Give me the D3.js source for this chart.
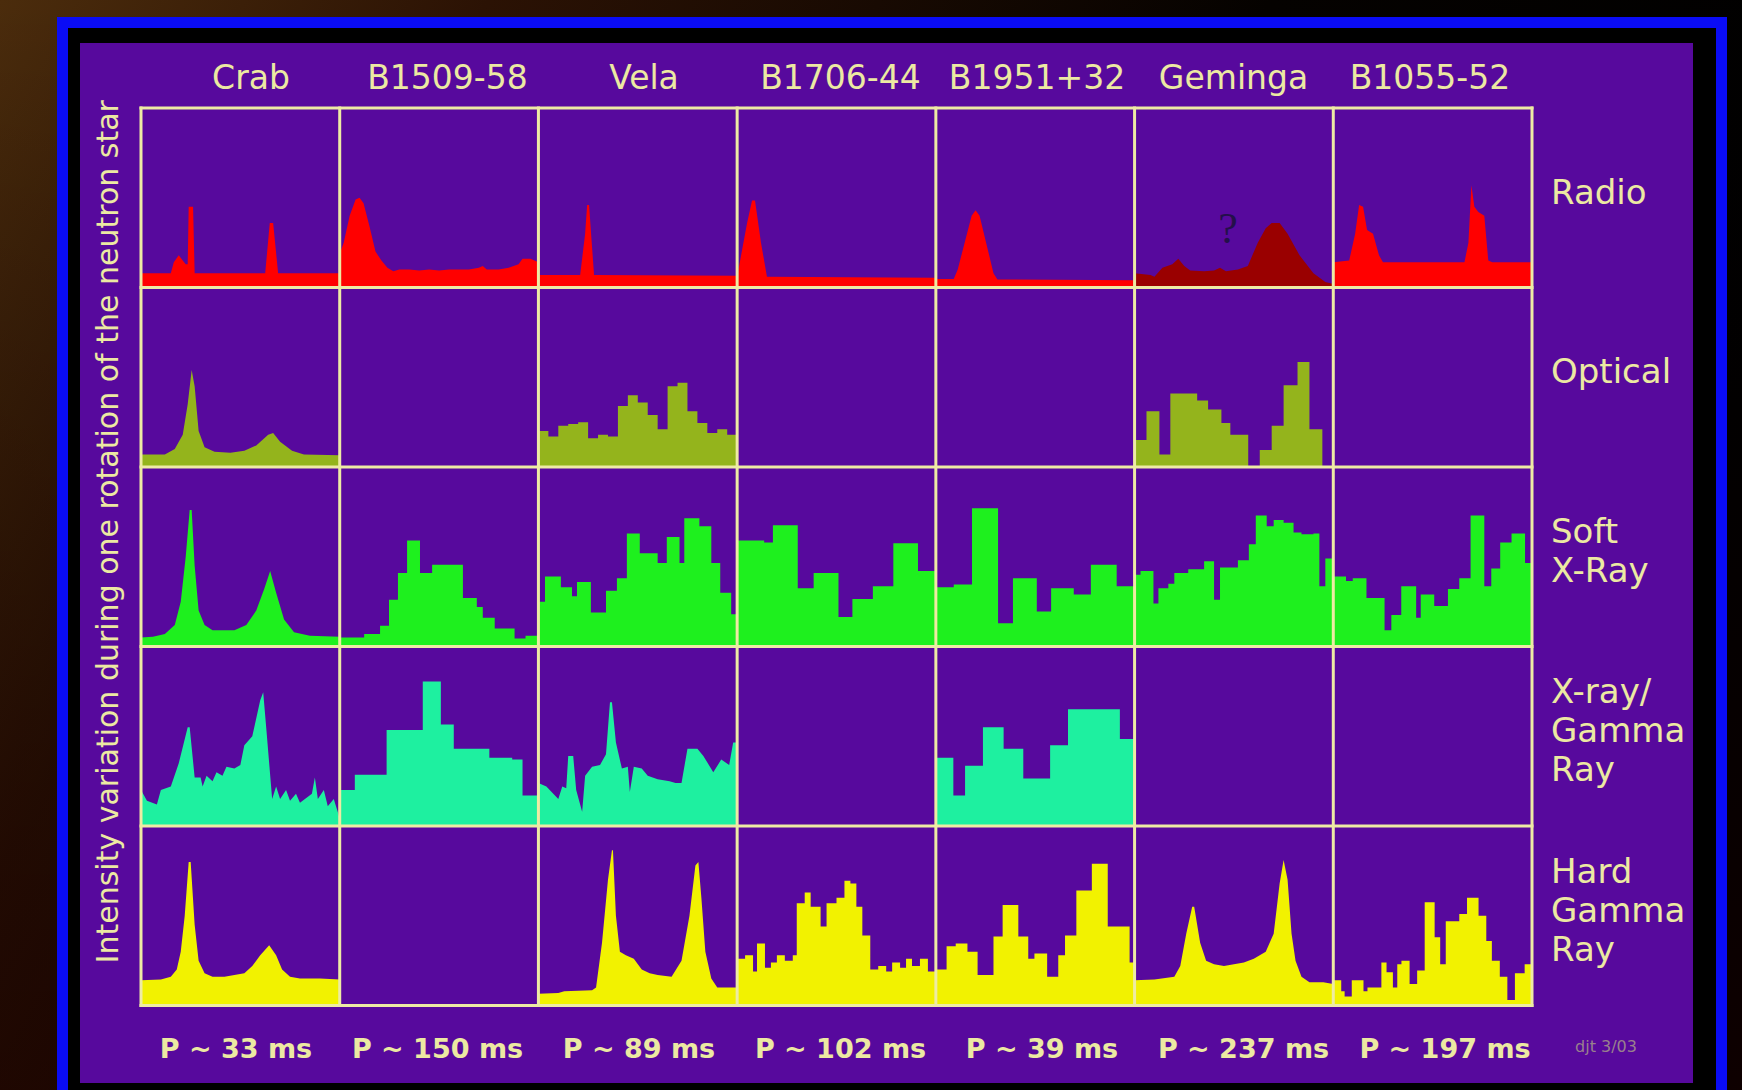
<!DOCTYPE html>
<html>
<head>
<meta charset="utf-8">
<script src="https://cdn.jsdelivr.net/npm/d3@7"></script>
<style>
  html, body { margin: 0; padding: 0; background: #000; overflow: hidden; }
  svg { display: block; }
</style>
</head>
<body>
<svg id="chart" width="1742" height="1090"></svg>
<script>
// Pulsars (columns), wavebands (rows) and the quoted spin periods
const pulsars = ["Crab", "B1509-58", "Vela", "B1706-44", "B1951+32", "Geminga", "B1055-52"];
const periods = ["P ~ 33 ms", "P ~ 150 ms", "P ~ 89 ms", "P ~ 102 ms", "P ~ 39 ms", "P ~ 237 ms", "P ~ 197 ms"];
const bands = ["Radio", "Optical", "Soft X-Ray", "X-ray/Gamma Ray", "Hard Gamma Ray"];
const bandLines = [["Radio"], ["Optical"], ["Soft", "X-Ray"], ["X-ray/", "Gamma", "Ray"], ["Hard", "Gamma", "Ray"]];

// Pulse profiles: [rotation phase, relative intensity]
// Smooth profiles are joined point to point; histogram profiles give [bin start, level].
const radioCrab = [[0,0.08],[0.15,0.08],[0.165,0.14],[0.19,0.18],[0.21,0.15],[0.225,0.13],[0.235,0.13],[0.24,0.45],[0.262,0.45],[0.27,0.08],[0.625,0.08],[0.648,0.36],[0.665,0.36],[0.69,0.08],[1,0.08]];
const radioB1509 = [[0,0.19],[0.02,0.25],[0.05,0.4],[0.08,0.49],[0.1,0.5],[0.12,0.47],[0.15,0.34],[0.18,0.2],[0.21,0.15],[0.24,0.11],[0.27,0.09],[0.3,0.1],[0.35,0.1],[0.4,0.095],[0.45,0.1],[0.5,0.095],[0.55,0.1],[0.6,0.1],[0.65,0.1],[0.7,0.11],[0.72,0.12],[0.74,0.1],[0.8,0.1],[0.85,0.11],[0.9,0.13],[0.92,0.16],[0.96,0.16],[1,0.14]];
const radioVela = [[0,0.07],[0.21,0.07],[0.235,0.3],[0.245,0.46],[0.255,0.46],[0.265,0.3],[0.28,0.07],[1,0.065]];
const radioB1706 = [[0,0.06],[0.01,0.12],[0.05,0.36],[0.075,0.485],[0.09,0.485],[0.12,0.25],[0.15,0.06],[1,0.054]];
const radioB1951 = [[0,0.048],[0.09,0.048],[0.11,0.1],[0.18,0.4],[0.2,0.43],[0.22,0.4],[0.29,0.08],[0.31,0.045],[1,0.04]];
const radioGeminga = [[0,0.08],[0.08,0.07],[0.1,0.06],[0.14,0.11],[0.19,0.13],[0.22,0.16],[0.25,0.12],[0.28,0.095],[0.35,0.09],[0.4,0.095],[0.43,0.11],[0.46,0.09],[0.52,0.1],[0.57,0.12],[0.62,0.25],[0.66,0.33],[0.69,0.36],[0.73,0.36],[0.77,0.3],[0.83,0.18],[0.9,0.08],[0.96,0.03],[1,0.02]];
const radioB1055 = [[0,0.14],[0.08,0.15],[0.11,0.3],[0.13,0.46],[0.15,0.45],[0.17,0.32],[0.2,0.3],[0.23,0.18],[0.25,0.14],[0.66,0.14],[0.68,0.25],[0.695,0.57],[0.71,0.45],[0.73,0.42],[0.76,0.4],[0.78,0.15],[0.8,0.14],[1,0.14]];

const opticalCrab = [[0,0.07],[0.12,0.07],[0.17,0.1],[0.21,0.18],[0.235,0.35],[0.255,0.54],[0.27,0.45],[0.29,0.2],[0.32,0.11],[0.37,0.085],[0.45,0.08],[0.52,0.09],[0.58,0.12],[0.64,0.18],[0.665,0.19],[0.7,0.14],[0.76,0.09],[0.82,0.07],[1,0.065]];
const opticalVela = [[0,0.2],[0.05,0.17],[0.1,0.23],[0.15,0.24],[0.2,0.25],[0.25,0.16],[0.3,0.18],[0.35,0.17],[0.4,0.34],[0.45,0.4],[0.5,0.36],[0.55,0.29],[0.6,0.21],[0.65,0.45],[0.7,0.47],[0.75,0.31],[0.8,0.245],[0.85,0.19],[0.9,0.21],[0.95,0.18]];
const opticalGeminga = [[0,0.15],[0.06,0.31],[0.125,0.07],[0.18,0.41],[0.315,0.37],[0.37,0.32],[0.437,0.245],[0.482,0.18],[0.572,0],[0.63,0.095],[0.69,0.23],[0.75,0.455],[0.82,0.585],[0.88,0.21],[0.945,0]];

const softCrab = [[0,0.05],[0.06,0.055],[0.12,0.07],[0.17,0.12],[0.2,0.25],[0.225,0.5],[0.245,0.76],[0.255,0.76],[0.27,0.45],[0.29,0.2],[0.32,0.12],[0.36,0.09],[0.47,0.09],[0.53,0.12],[0.58,0.2],[0.62,0.32],[0.65,0.42],[0.68,0.3],[0.72,0.15],[0.77,0.08],[0.85,0.06],[1,0.055]];
const softB1509 = [[0,0.05],[0.123,0.07],[0.203,0.115],[0.248,0.26],[0.293,0.41],[0.339,0.59],[0.404,0.41],[0.465,0.455],[0.62,0.27],[0.69,0.22],[0.72,0.16],[0.78,0.1],[0.88,0.045],[0.935,0.06]];
const softVela = [[0,0.25],[0.033,0.39],[0.113,0.33],[0.169,0.28],[0.194,0.36],[0.264,0.19],[0.34,0.31],[0.395,0.38],[0.445,0.63],[0.51,0.52],[0.6,0.465],[0.646,0.61],[0.71,0.465],[0.734,0.715],[0.81,0.67],[0.87,0.465],[0.915,0.3],[0.97,0.18]];
const softB1706 = [[0,0.59],[0.136,0.58],[0.18,0.675],[0.305,0.325],[0.385,0.41],[0.51,0.165],[0.58,0.265],[0.683,0.335],[0.786,0.575],[0.91,0.42]];
const softB1951 = [[0,0.33],[0.09,0.345],[0.182,0.77],[0.313,0.13],[0.388,0.38],[0.508,0.195],[0.58,0.325],[0.694,0.29],[0.78,0.455],[0.91,0.335]];
const softGeminga = [[0,0.4],[0.03,0.42],[0.095,0.24],[0.12,0.325],[0.17,0.35],[0.2,0.41],[0.27,0.43],[0.35,0.475],[0.4,0.26],[0.43,0.44],[0.52,0.48],[0.575,0.57],[0.61,0.73],[0.665,0.67],[0.7,0.705],[0.75,0.69],[0.8,0.635],[0.84,0.625],[0.9,0.63],[0.93,0.335],[0.96,0.49]];
const softB1055 = [[0,0.39],[0.064,0.365],[0.098,0.38],[0.167,0.27],[0.258,0.09],[0.292,0.175],[0.342,0.335],[0.417,0.16],[0.44,0.29],[0.508,0.225],[0.577,0.32],[0.634,0.38],[0.691,0.73],[0.76,0.335],[0.795,0.435],[0.84,0.58],[0.897,0.63],[0.965,0.465]];

const xgCrab = [[0,0.2],[0.03,0.14],[0.08,0.12],[0.1,0.2],[0.15,0.22],[0.19,0.35],[0.235,0.55],[0.245,0.55],[0.27,0.27],[0.3,0.27],[0.31,0.22],[0.33,0.28],[0.36,0.25],[0.38,0.3],[0.41,0.28],[0.43,0.33],[0.47,0.32],[0.5,0.34],[0.52,0.45],[0.56,0.5],[0.6,0.7],[0.615,0.745],[0.63,0.55],[0.66,0.15],[0.68,0.22],[0.7,0.15],[0.73,0.2],[0.75,0.14],[0.78,0.18],[0.8,0.13],[0.86,0.18],[0.875,0.27],[0.89,0.15],[0.92,0.2],[0.94,0.11],[0.97,0.15],[0.99,0.08],[1,0.04]];
const xgB1509 = [[0,0.2],[0.076,0.285],[0.236,0.535],[0.418,0.805],[0.509,0.565],[0.574,0.43],[0.753,0.38],[0.868,0.37],[0.92,0.17]];
const xgVela = [[0,0.24],[0.04,0.22],[0.1,0.15],[0.12,0.22],[0.14,0.21],[0.15,0.39],[0.175,0.39],[0.19,0.2],[0.22,0.08],[0.235,0.28],[0.27,0.33],[0.31,0.34],[0.34,0.4],[0.36,0.69],[0.37,0.69],[0.39,0.465],[0.42,0.32],[0.45,0.33],[0.46,0.19],[0.48,0.33],[0.52,0.32],[0.55,0.28],[0.6,0.26],[0.66,0.25],[0.69,0.24],[0.72,0.24],[0.75,0.43],[0.8,0.43],[0.83,0.39],[0.88,0.3],[0.92,0.37],[0.96,0.34],[0.98,0.465],[1,0.465]];
const xgB1951 = [[0,0.38],[0.088,0.17],[0.147,0.335],[0.237,0.55],[0.341,0.43],[0.44,0.265],[0.575,0.45],[0.665,0.65],[0.926,0.485]];

const hardCrab = [[0,0.14],[0.1,0.145],[0.15,0.16],[0.18,0.2],[0.2,0.3],[0.22,0.5],[0.24,0.8],[0.25,0.8],[0.27,0.45],[0.29,0.25],[0.32,0.18],[0.36,0.16],[0.42,0.16],[0.47,0.17],[0.52,0.18],[0.56,0.22],[0.6,0.28],[0.645,0.335],[0.68,0.28],[0.71,0.2],[0.75,0.16],[0.8,0.15],[0.9,0.15],[1,0.145]];
const hardVela = [[0,0.065],[0.1,0.07],[0.13,0.08],[0.27,0.085],[0.29,0.1],[0.32,0.35],[0.35,0.7],[0.37,0.865],[0.375,0.865],[0.39,0.5],[0.41,0.3],[0.44,0.28],[0.48,0.26],[0.52,0.2],[0.56,0.18],[0.6,0.17],[0.67,0.16],[0.72,0.25],[0.76,0.5],[0.79,0.78],[0.805,0.8],[0.82,0.6],[0.84,0.3],[0.87,0.15],[0.9,0.1],[0.95,0.1],[1,0.1]];
const hardB1706 = [[0,0.26],[0.04,0.28],[0.08,0.19],[0.1,0.345],[0.14,0.21],[0.17,0.24],[0.2,0.28],[0.24,0.25],[0.28,0.28],[0.3,0.57],[0.34,0.63],[0.37,0.55],[0.42,0.44],[0.45,0.57],[0.5,0.6],[0.54,0.695],[0.57,0.68],[0.6,0.55],[0.63,0.39],[0.67,0.2],[0.71,0.22],[0.75,0.19],[0.78,0.24],[0.82,0.21],[0.85,0.26],[0.88,0.22],[0.92,0.26],[0.96,0.19]];
const hardB1951 = [[0,0.2],[0.054,0.33],[0.1,0.345],[0.159,0.3],[0.21,0.17],[0.29,0.385],[0.336,0.56],[0.415,0.385],[0.465,0.26],[0.496,0.29],[0.56,0.16],[0.616,0.28],[0.65,0.39],[0.707,0.64],[0.785,0.79],[0.865,0.44],[0.975,0.24]];
const hardGeminga = [[0,0.14],[0.1,0.145],[0.2,0.16],[0.23,0.22],[0.26,0.4],[0.29,0.55],[0.3,0.55],[0.33,0.35],[0.36,0.25],[0.4,0.23],[0.45,0.22],[0.5,0.23],[0.55,0.24],[0.6,0.26],[0.66,0.3],[0.7,0.4],[0.73,0.68],[0.75,0.81],[0.77,0.7],[0.79,0.4],[0.81,0.25],[0.84,0.16],[0.88,0.13],[0.95,0.13],[1,0.12]];
const hardB1055 = [[0,0.14],[0.04,0.08],[0.057,0.05],[0.093,0.14],[0.152,0.08],[0.172,0.1],[0.242,0.24],[0.268,0.185],[0.3,0.1],[0.322,0.23],[0.343,0.25],[0.384,0.12],[0.422,0.195],[0.46,0.575],[0.51,0.38],[0.538,0.23],[0.566,0.47],[0.634,0.51],[0.673,0.6],[0.731,0.5],[0.77,0.36],[0.798,0.25],[0.838,0.16],[0.876,0.03],[0.914,0.18],[0.963,0.23]];

// Which profile sits in which cell, and how it is joined
const profiles = [
  ["Radio", "Crab", radioCrab, "line"],
  ["Radio", "B1509-58", radioB1509, "line"],
  ["Radio", "Vela", radioVela, "line"],
  ["Radio", "B1706-44", radioB1706, "line"],
  ["Radio", "B1951+32", radioB1951, "line"],
  ["Radio", "Geminga", radioGeminga, "line"],
  ["Radio", "B1055-52", radioB1055, "line"],
  ["Optical", "Crab", opticalCrab, "line"],
  ["Optical", "Vela", opticalVela, "step"],
  ["Optical", "Geminga", opticalGeminga, "step"],
  ["Soft X-Ray", "Crab", softCrab, "line"],
  ["Soft X-Ray", "B1509-58", softB1509, "step"],
  ["Soft X-Ray", "Vela", softVela, "step"],
  ["Soft X-Ray", "B1706-44", softB1706, "step"],
  ["Soft X-Ray", "B1951+32", softB1951, "step"],
  ["Soft X-Ray", "Geminga", softGeminga, "step"],
  ["Soft X-Ray", "B1055-52", softB1055, "step"],
  ["X-ray/Gamma Ray", "Crab", xgCrab, "line"],
  ["X-ray/Gamma Ray", "B1509-58", xgB1509, "step"],
  ["X-ray/Gamma Ray", "Vela", xgVela, "line"],
  ["X-ray/Gamma Ray", "B1951+32", xgB1951, "step"],
  ["Hard Gamma Ray", "Crab", hardCrab, "line"],
  ["Hard Gamma Ray", "Vela", hardVela, "line"],
  ["Hard Gamma Ray", "B1706-44", hardB1706, "step"],
  ["Hard Gamma Ray", "B1951+32", hardB1951, "step"],
  ["Hard Gamma Ray", "Geminga", hardGeminga, "line"],
  ["Hard Gamma Ray", "B1055-52", hardB1055, "step"]
];

// ---- styling ----
const bandColor = {
  "Radio": "#ff0000",
  "Optical": "#94b41c",
  "Soft X-Ray": "#1ef01e",
  "X-ray/Gamma Ray": "#1ef0a0",
  "Hard Gamma Ray": "#f2f200"
};
const uncertainColor = "#9a0000"; // Geminga's doubtful radio detection
const ink = "#ecE9a2";
const panelFill = "#57099d";
const gridColor = "#eeeba4";

const W = 1742, H = 1090;
const svg = d3.select("#chart");
const defs = svg.append("defs");

// dark brown backdrop fading to black
const g1 = defs.append("linearGradient").attr("id", "bg").attr("x1", 0).attr("y1", 0).attr("x2", 1).attr("y2", 0.35);
g1.append("stop").attr("offset", 0).attr("stop-color", "#4b2c0c");
g1.append("stop").attr("offset", 0.25).attr("stop-color", "#2b1204");
g1.append("stop").attr("offset", 0.65).attr("stop-color", "#050200");
g1.append("stop").attr("offset", 1).attr("stop-color", "#000000");
const g2 = defs.append("linearGradient").attr("id", "shade").attr("x1", 0).attr("y1", 0).attr("x2", 0).attr("y2", 1);
g2.append("stop").attr("offset", 0).attr("stop-color", "#000").attr("stop-opacity", 0);
g2.append("stop").attr("offset", 1).attr("stop-color", "#1a0000").attr("stop-opacity", 0.55);

svg.append("rect").attr("width", W).attr("height", H).attr("fill", "url(#bg)");
svg.append("rect").attr("width", W).attr("height", H).attr("fill", "url(#shade)");

// frame: blue rim, black mat, purple panel
svg.append("rect").attr("x", 57).attr("y", 17).attr("width", 1670).attr("height", 1100).attr("fill", "#0a0cf6");
svg.append("rect").attr("x", 68).attr("y", 28).attr("width", 1648).attr("height", 1100).attr("fill", "#000");
svg.append("rect").attr("x", 80).attr("y", 43).attr("width", 1613).attr("height", 1040).attr("fill", panelFill);

// ---- grid scales ----
const gridLeft = 141, gridRight = 1532, gridTop = 108, gridBottom = 1005.5;
const x = d3.scaleBand().domain(pulsars).range([gridLeft, gridRight]);
const y = d3.scaleBand().domain(bands).range([gridTop, gridBottom]);

const plot = svg.append("g");
profiles.forEach(([band, pulsar, pts, kind]) => {
  const px = d3.scaleLinear().domain([0, 1]).range([x(pulsar), x(pulsar) + x.bandwidth()]);
  const py = d3.scaleLinear().domain([0, 1]).range([y(band) + y.bandwidth(), y(band)]);
  const data = kind === "step" ? pts.concat([[1, pts[pts.length - 1][1]]]) : pts;
  const area = d3.area()
    .x(d => px(d[0]))
    .y0(py(0))
    .y1(d => py(d[1]))
    .curve(kind === "step" ? d3.curveStepAfter : d3.curveLinear);
  const color = (band === "Radio" && pulsar === "Geminga") ? uncertainColor : bandColor[band];
  plot.append("path").datum(data).attr("d", area).attr("fill", color);
});

// question mark over the Geminga radio profile
svg.append("text")
  .attr("x", x("Geminga") + x.bandwidth() * 0.47)
  .attr("y", y("Radio") + y.bandwidth() * 0.75)
  .attr("text-anchor", "middle")
  .attr("font-family", "Liberation Serif, DejaVu Serif, serif")
  .attr("font-size", 44)
  .attr("fill", "#24104a")
  .text("?");

// grid lines
const grid = svg.append("g").attr("stroke", gridColor).attr("stroke-width", 3);
const xEdges = pulsars.map(p => x(p)).concat([gridRight]);
const yEdges = bands.map(b => y(b)).concat([gridBottom]);
grid.selectAll("line.v").data(xEdges).join("line").attr("class", "v")
  .attr("x1", d => d).attr("x2", d => d).attr("y1", gridTop - 1.5).attr("y2", gridBottom + 1.5);
grid.selectAll("line.h").data(yEdges).join("line").attr("class", "h")
  .attr("x1", gridLeft - 1.5).attr("x2", gridRight + 1.5).attr("y1", d => d).attr("y2", d => d);

// column titles and periods
const titleX = d3.scalePoint().domain(pulsars).range([251, 1430]);
svg.append("g").selectAll("text").data(pulsars).join("text")
  .attr("x", d => titleX(d)).attr("y", 89)
  .attr("text-anchor", "middle")
  .attr("font-family", "DejaVu Sans, sans-serif")
  .attr("font-size", 33)
  .attr("fill", ink)
  .text(d => d);

const periodX = d3.scalePoint().domain(periods).range([236, 1445]);
svg.append("g").selectAll("text").data(periods).join("text")
  .attr("x", d => periodX(d)).attr("y", 1058)
  .attr("text-anchor", "middle")
  .attr("font-family", "DejaVu Sans, sans-serif")
  .attr("font-weight", "bold")
  .attr("font-size", 27)
  .attr("fill", ink)
  .text(d => d);

// band names to the right of the grid
const lineGap = 39;
bands.forEach((b, i) => {
  const lines = bandLines[i];
  const cy = y(b) + y.bandwidth() / 2 + 6 - lineGap * (lines.length - 1) / 2;
  const t = svg.append("text")
    .attr("font-family", "DejaVu Sans, sans-serif")
    .attr("font-size", 34)
    .attr("fill", ink);
  lines.forEach((ln, k) => {
    t.append("tspan").attr("x", gridRight + 19).attr("y", cy + k * lineGap).text(ln);
  });
});

// vertical axis caption
svg.append("text")
  .attr("transform", "translate(118," + ((gridTop + gridBottom) / 2 - 25) + ") rotate(-90)")
  .attr("text-anchor", "middle")
  .attr("font-family", "DejaVu Sans, sans-serif")
  .attr("font-size", 30)
  .attr("fill", ink)
  .text("Intensity variation during one rotation of the neutron star");

// author initials
svg.append("text")
  .attr("x", 1606).attr("y", 1052)
  .attr("text-anchor", "middle")
  .attr("font-family", "DejaVu Sans, sans-serif")
  .attr("font-size", 16)
  .attr("fill", "#b0a888")
  .attr("opacity", 0.75)
  .text("djt 3/03");
</script>
</body>
</html>
